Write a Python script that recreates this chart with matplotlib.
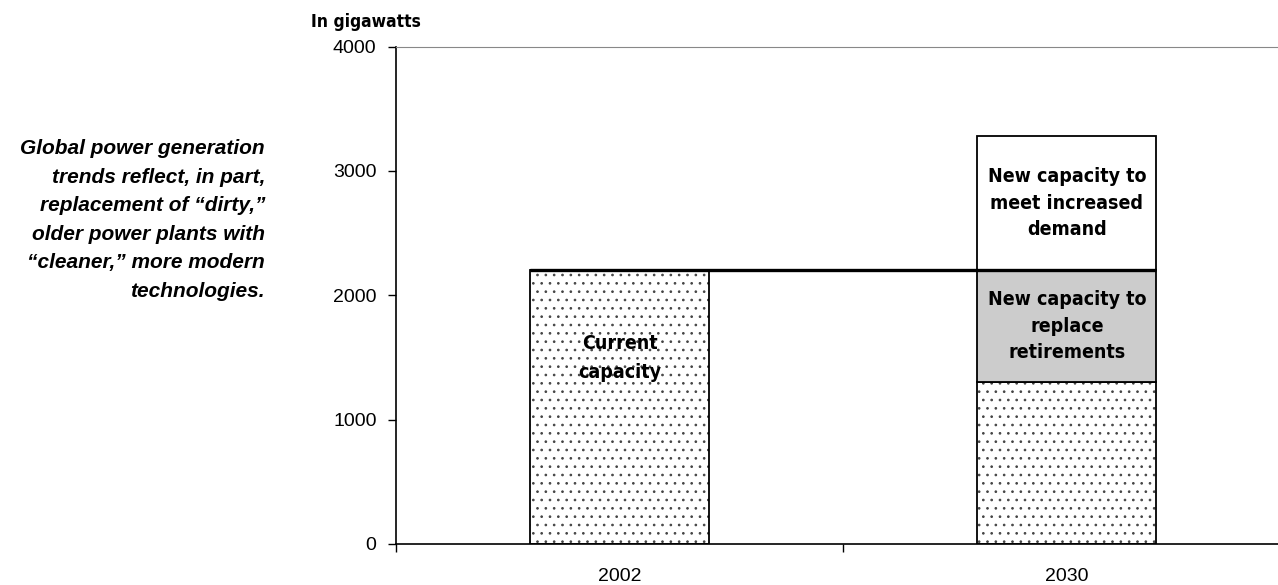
import matplotlib
matplotlib.use("Agg")
import matplotlib.pyplot as plt

# Capacity in gigawatts
years = ["2002", "2030"]
current_capacity = [2200, 1300]      # existing plants still running
replace_retirements = [0, 900]       # new plants replacing retired ones
meet_demand = [0, 1080]              # new plants for added demand

sidebar = ("Global power generation\n"
           "trends reflect, in part,\n"
           "replacement of \u201cdirty,\u201d\n"
           "older power plants with\n"
           "\u201ccleaner,\u201d more modern\n"
           "technologies.")

plt.rcParams["font.family"] = ["Liberation Sans", "DejaVu Sans"]
plt.rcParams["hatch.linewidth"] = 0.7

cond = dict(family="DejaVu Sans", fontstretch="condensed", fontweight="bold")

fig = plt.figure(figsize=(12.78, 5.85), dpi=100)
ax = fig.add_axes([0.3099, 0.0701, 0.6901, 0.8504])

x = [0, 1]
w = 0.4

# dotted fill first, black outline drawn over it
ax.bar(x, current_capacity, width=w, color="white", edgecolor="#444444",
       hatch="..", linewidth=0)
ax.bar(x, current_capacity, width=w, fill=False, edgecolor="black",
       linewidth=1.3)
ax.bar(x, replace_retirements, width=w, bottom=current_capacity,
       color="#cccccc", edgecolor="black", linewidth=1.3)
base2 = [a + b for a, b in zip(current_capacity, replace_retirements)]
ax.bar(x[1], meet_demand[1], width=w, bottom=base2[1],
       color="white", edgecolor="black", linewidth=1.3)

# level of today's capacity carried across to 2030
ax.plot([x[0] - w / 2, x[1] + w / 2], [current_capacity[0]] * 2,
        color="black", lw=2.4, solid_capstyle="butt", zorder=5)

lab = dict(ha="center", va="center", fontsize=14, **cond)
ax.text(x[0], current_capacity[0] * 0.68, "Current\ncapacity",
        linespacing=1.7, **lab)
ax.text(x[1], current_capacity[1] + replace_retirements[1] / 2,
        "New capacity to\nreplace\nretirements", linespacing=1.5, **lab)
ax.text(x[1], base2[1] + meet_demand[1] / 2,
        "New capacity to\nmeet increased\ndemand", linespacing=1.5, **lab)

ax.set_xlim(-0.5, 1.472)
ax.set_ylim(0, 4000)
ax.set_yticks([0, 1000, 2000, 3000, 4000])
ax.tick_params(axis="y", labelsize=14, length=6, width=1, pad=8)

ax.set_xticks([-0.5, 0.5])
ax.set_xticklabels(["", ""])
ax.set_xticks(x, minor=True)
ax.set_xticklabels(years, minor=True)
ax.tick_params(axis="x", which="major", length=6, width=1)
ax.tick_params(axis="x", which="minor", length=0, labelsize=14, pad=17)

ax.spines["right"].set_visible(False)
ax.spines["top"].set_color("#888888")
ax.spines["left"].set_linewidth(1.2)
ax.spines["bottom"].set_linewidth(1.2)

fig.text(311 / 1278, 1 - 22 / 585, "In gigawatts", ha="left", va="center",
         fontsize=12.5, **cond)

fig.text(265 / 1278, 1 - 220 / 585, sidebar, ha="right", va="center",
         fontsize=15, fontweight="bold", style="italic", linespacing=1.64)

fig.savefig("out.png", dpi=100)
